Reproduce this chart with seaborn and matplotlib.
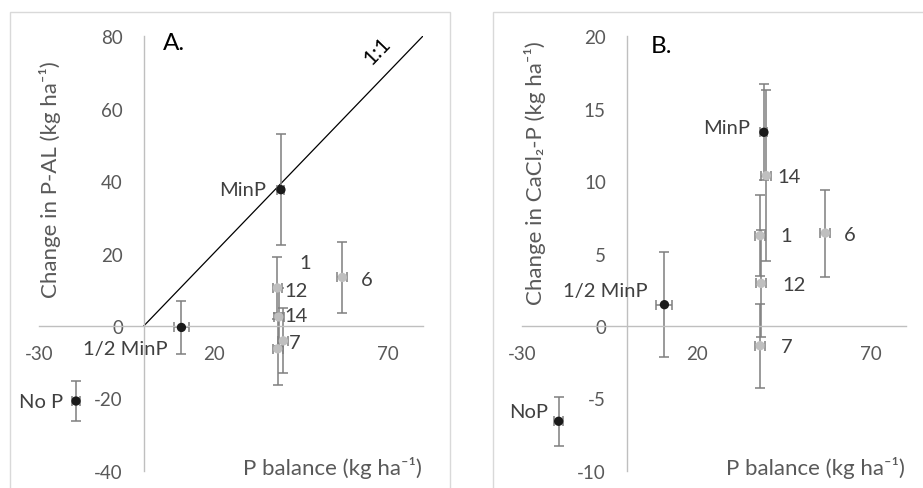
import pandas as pd
import matplotlib.pyplot as plt
import matplotlib.patches as mpatches
import seaborn as sns

# treatments (black = mineral P controls, grey = numbered treatments)
labels_a = ['No P', '1/2 MinP', 'MinP', '1', '12', '14', '7', '6']
labels_b = ['NoP', '1/2 MinP', 'MinP', '1', '12', '14', '7', '6']
group = ['ctrl', 'ctrl', 'ctrl', 'org', 'org', 'org', 'org', 'org']

# panel A: change in P-AL
a_x = [-19.4, 10.8, 39.3, 38.4, 38.3, 38.7, 40.0, 56.9]
a_y = [-20.7, -0.4, 37.6, -6.3, 10.5, 2.5, -4.1, 13.4]
a_xerr = [1.2, 2.1, 1.0, 1.4, 1.4, 1.4, 1.4, 1.4]
a_yerr = [5.4, 7.4, 15.3, 10.0, 8.5, 8.0, 9.0, 9.9]

# panel B: change in CaCl2-P
b_x = [-19.5, 10.8, 39.3, 38.2, 38.5, 40.0, 38.2, 56.9]
b_y = [-6.57, 1.47, 13.36, 6.23, 2.94, 10.37, -1.36, 6.41]
b_xerr = [1.2, 2.3, 1.0, 1.4, 1.4, 1.4, 1.4, 1.4]
b_yerr = [1.7, 3.6, 3.3, 2.8, 3.7, 5.9, 2.9, 3.0]

x_ticks = [-30, 20, 70]
a_yticks = [-40, -20, 0, 20, 40, 60, 80]
b_yticks = [-10, -5, 0, 5, 10, 15, 20]

# label offsets in pixels (dx, dy, ha)
a_offsets = [(-13, 0, 'right'), (-14, -21, 'right'), (-15, 0, 'right'), (22, 86, 'left'),
             (7, -3, 'left'), (6, 1, 'left'), (6, -2, 'left'), (19, -2, 'left')]
b_offsets = [(-11, 10, 'right'), (-17, 14, 'right'), (-14, 5, 'right'), (20, 0, 'left'),
             (21, -1, 'left'), (11, -1, 'left'), (21, -1, 'left'), (19, -1, 'left')]

sns.set_theme(style='white')
plt.rcParams['font.family'] = ['Lato', 'DejaVu Sans']
plt.rcParams['axes.unicode_minus'] = False

AXIS_GREY = '#BFBFBF'
TEXT_GREY = '#595959'
LABEL_GREY = '#404040'
palette = {'ctrl': '#1a1a1a', 'org': '#BFBFBF'}


def draw_panel(ax, x, y, xerr, yerr, labels, offsets, yticks, ylabel, ylab_pos, tag, tag_pos):
    df = pd.DataFrame({'x': x, 'y': y, 'group': group})
    ax.errorbar(df['x'], df['y'], xerr=xerr, yerr=yerr, fmt='none',
                ecolor='#7F7F7F', elinewidth=1.1, capsize=3.6, capthick=1.1, zorder=2)
    sns.scatterplot(data=df, x='x', y='y', hue='group', palette=palette, s=45,
                    edgecolor='none', legend=False, ax=ax, zorder=3)
    for lab, xi, yi, (dx, dy, ha) in zip(labels, x, y, offsets):
        ax.annotate(lab, (xi, yi), xytext=(dx, dy), textcoords='offset pixels',
                    ha=ha, va='center', fontsize=14.5, color=LABEL_GREY)

    ax.set_xlim(-30, 80)
    ax.set_ylim(yticks[0], yticks[-1])
    ax.set_xticks(x_ticks)
    ax.set_yticks(yticks)
    ax.spines['left'].set_position(('data', 0))
    ax.spines['bottom'].set_position(('data', 0))
    for s in ['top', 'right']:
        ax.spines[s].set_visible(False)
    for s in ['left', 'bottom']:
        ax.spines[s].set_color(AXIS_GREY)
        ax.spines[s].set_linewidth(1.0)
    ax.tick_params(axis='both', length=0, labelsize=13.5, labelcolor=TEXT_GREY)
    ax.tick_params(axis='x', pad=14)
    ax.tick_params(axis='y', pad=15)
    ax.set_xlabel('')
    ax.set_ylabel('')
    ax.patch.set_alpha(0)
    ax.text(ylab_pos[0], ylab_pos[1], ylabel, transform=ax.transAxes, rotation=90,
            ha='center', va='center', fontsize=16, color=TEXT_GREY)
    ax.text(0.763, 0.01, 'P balance (kg ha\u207b\u00b9)', transform=ax.transAxes,
            ha='center', va='center', fontsize=16, color=TEXT_GREY)
    ax.text(tag_pos[0], tag_pos[1], tag, transform=ax.transAxes, ha='left', va='center',
            fontsize=17.5, color='black')


fig = plt.figure(figsize=(9.23, 4.89), dpi=100)
fig.patch.set_facecolor('white')

# chart-area borders
fig.patches.append(mpatches.Rectangle((10 / 923, -0.1), 440 / 923, 1.1 - 13 / 489,
                                      transform=fig.transFigure, fill=False,
                                      edgecolor='#D9D9D9', lw=1.0))
fig.patches.append(mpatches.Rectangle((493 / 923, -0.1), 440 / 923, 1.1 - 13 / 489,
                                      transform=fig.transFigure, fill=False,
                                      edgecolor='#D9D9D9', lw=1.0))

ax_a = fig.add_axes([39 / 923, 17 / 489, 384 / 923, 435 / 489])
ax_b = fig.add_axes([522 / 923, 17 / 489, 384 / 923, 435 / 489])

draw_panel(ax_a, a_x, a_y, a_xerr, a_yerr, labels_a, a_offsets, a_yticks,
           'Change in P-AL (kg ha\u207b\u00b9)', (0.029, 0.671), 'A.', (0.322, 0.985))
# 1:1 line
ax_a.plot([0, 80], [0, 80], color='black', lw=0.9, zorder=1)
ax_a.annotate('1:1', (72, 72), xytext=(-18, 15), textcoords='offset pixels',
              rotation=46, ha='center', va='center', fontsize=15, color='black')

draw_panel(ax_b, b_x, b_y, b_xerr, b_yerr, labels_b, b_offsets, b_yticks,
           'Change in CaCl\u2082-P (kg ha\u207b\u00b9)', (0.034, 0.687), 'B.', (0.336, 0.978))

fig.savefig('out.png', dpi=100)
